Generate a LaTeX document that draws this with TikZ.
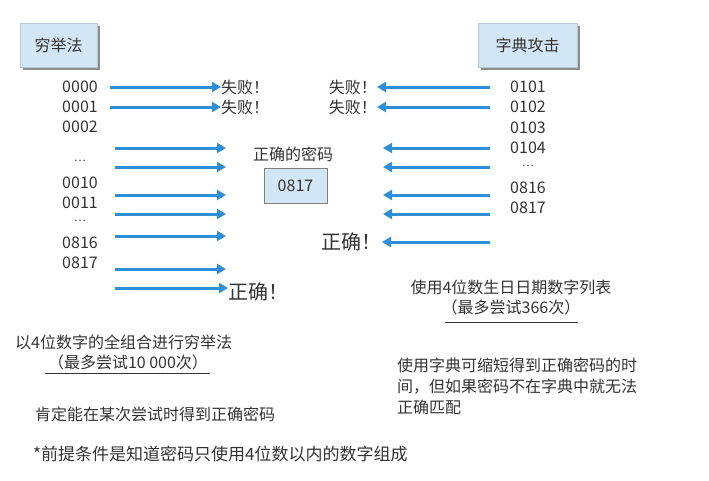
\documentclass[tikz,border=0pt]{standalone}
\usepackage{fontspec}
\setmainfont{Noto Sans CJK SC}
\usetikzlibrary{arrows.meta,positioning,shadows}
\definecolor{ArrowBlue}{HTML}{2F8ED8}
\definecolor{BoxBlue}{HTML}{D3E6F5}
\definecolor{InkGray}{HTML}{333333}
\definecolor{ShadeGray}{HTML}{8C8C8C}

\begin{document}
\begin{tikzpicture}[x=1pt,y=-1pt,>={Triangle[length=9pt,width=10pt]},
  every node/.style={font=\fontsize{16}{21}\selectfont,text=InkGray,inner sep=0pt}]
  \tikzset{
    hit/.style={->,ArrowBlue,line width=3pt},
    titlebox/.style={fill=BoxBlue,draw=BoxBlue!70!gray,line width=0.4pt,minimum height=44pt,
      drop shadow={shadow xshift=3pt,shadow yshift=-3pt,fill=ShadeGray,opacity=1}},
    bigtext/.style={font=\fontsize{20}{24}\selectfont},
    gap/.style={font=\fontsize{11}{11}\selectfont},
    underline/.style={InkGray,line width=0.8pt}
  }
  \useasboundingbox (0,0) rectangle (709,480);
  % method titles
  \node[titlebox,minimum width=77pt] (brute) at (58.5,45) {穷举法};
  \node[titlebox,minimum width=99pt] (dict) at (527.5,45) {字典攻击};
  % brute force column
  \foreach \txt/\yy [count=\i] in {0000/87,0001/107,0002/127,0010/183,0011/203,0816/243,0817/263}
    \node (L\i) at (80,\yy) {\txt};
  \node[gap] (Ldots1) at (80,161) {…};
  \node[gap] (Ldots2) at (80,221) {…};
  \node[anchor=west] (failL1) at (221,87) {失败！};
  \node[anchor=west] (failL2) at (221,107) {失败！};
  \node[anchor=west,bigtext] (okL) at (228,292) {正确！};
  \coordinate (la1) at (110,87);
  \coordinate (la2) at (110,107);
  \draw[hit] (la1) -- (failL1.west);
  \draw[hit] (la2) -- (failL2.west);
  \foreach \yy [count=\i] in {148,167,195,214,236,269} {
    \coordinate (lb\i) at (115,\yy);
    \coordinate (lc\i) at (226,\yy);
    \draw[hit] (lb\i) -- (lc\i);
  }
  \coordinate (lok) at (115,288);
  \draw[hit] (lok) -- (okL.west |- lok);
  % the password
  \node (pwtag) at (293,154) {正确的密码};
  \node[draw=gray,fill=BoxBlue,minimum width=63pt,minimum height=35pt] (pw) at (295.5,185.5) {0817};
  % dictionary column
  \foreach \txt/\yy [count=\i] in {0101/87,0102/107,0103/128,0104/148,0816/188,0817/208}
    \node (R\i) at (528,\yy) {\txt};
  \node[gap] (Rdots) at (528,166) {…};
  \node[anchor=east] (failR1) at (377,87) {失败！};
  \node[anchor=east] (failR2) at (377,107) {失败！};
  \node[anchor=east,bigtext] (okR) at (382,242) {正确！};
  \coordinate (ra1) at (490,87);
  \coordinate (ra2) at (490,107);
  \draw[hit] (ra1) -- (failR1.east);
  \draw[hit] (ra2) -- (failR2.east);
  \foreach \yy [count=\i] in {148,167,195,214} {
    \coordinate (rb\i) at (490,\yy);
    \coordinate (rc\i) at (383,\yy);
    \draw[hit] (rb\i) -- (rc\i);
  }
  \coordinate (rok) at (490,242);
  \draw[hit] (rok) -- (okR.east |- rok);
  % notes
  \node (dictnote) at (511,287) {使用4位数生日日期数字列表};
  \node (dictmax) at (511,307) {（最多尝试366次）};
  \draw[underline] (445,322) -- (578,322);
  \node[anchor=west] (brutenote) at (15,342) {以4位数字的全组合进行穷举法};
  \node (brutemax) at (128,362) {（最多尝试10 000次）};
  \draw[underline] (45,373) -- (210,373);
  \node[anchor=north west,align=left] (dictpro) at (397,358)
    {使用字典可缩短得到正确密码的时\\间，但如果密码不在字典中就无法\\正确匹配};
  \node[anchor=west] (brutepro) at (35,414) {肯定能在某次尝试时得到正确密码};
  \node[anchor=west,font=\fontsize{17}{21}\selectfont] (premise) at (33,454)
    {*前提条件是知道密码只使用4位数以内的数字组成};
\end{tikzpicture}
\end{document}
